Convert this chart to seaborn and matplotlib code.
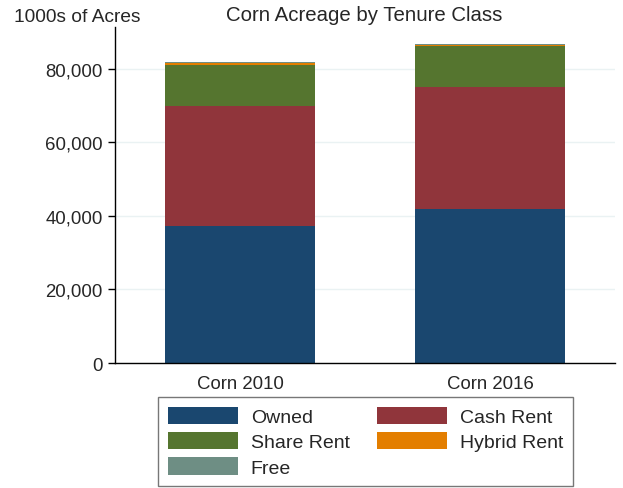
import pandas as pd
import matplotlib.pyplot as plt
import seaborn as sns
from matplotlib.patches import Patch
from matplotlib.ticker import FuncFormatter

# Datos (miles de acres)
years = ['Corn 2010', 'Corn 2016']
classes = ['Owned', 'Cash Rent', 'Share Rent', 'Hybrid Rent', 'Free']
owned = [37300, 41900]
cash_rent = [32600, 33200]
share_rent = [11300, 11100]
hybrid_rent = [450, 300]
free = [350, 300]
colors = ['#1a476f', '#90353b', '#55752f', '#e37e00', '#6e8e84']

sns.set_style('white')
plt.rcParams['font.family'] = ['Liberation Sans', 'DejaVu Sans']

data = pd.DataFrame({'year': years, 'Owned': owned, 'Cash Rent': cash_rent,
                     'Share Rent': share_rent, 'Hybrid Rent': hybrid_rent, 'Free': free})

fig = plt.figure(figsize=(6.23, 4.89), dpi=100)
ax = fig.add_axes([0.1846, 0.2556, 0.8025, 0.6871])

# Barras apiladas
bottom = pd.Series([0] * len(data))
for cls, col in zip(classes, colors):
    sns.barplot(data=data, x='year', y=cls, color=col, bottom=bottom.values,
                width=0.6, ax=ax, saturation=1, edgecolor='none', linewidth=0)
    bottom = bottom + data[cls]

ax.set_xlim(-0.5, 1.5)
ax.set_ylim(0, 91400)
ax.set_yticks([0, 20000, 40000, 60000, 80000])
ax.yaxis.set_major_formatter(FuncFormatter(lambda v, p: f'{int(v):,}'))
ax.grid(axis='y', color='#eaf2f3', linewidth=1)
ax.set_axisbelow(True)
for s in ['top', 'right']:
    ax.spines[s].set_visible(False)
for s in ['left', 'bottom']:
    ax.spines[s].set_color('black')
    ax.spines[s].set_linewidth(1)
ax.tick_params(axis='y', left=True, length=5, width=1, labelsize=13.4, color='black', pad=4)
ax.tick_params(axis='x', bottom=False, labelsize=13.4, pad=5)
ax.set_xlabel('')
ax.set_ylabel('')

fig.text(0.022, 0.965, '1000s of Acres', fontsize=13.8, ha='left', va='center')
fig.text(0.585, 0.969, 'Corn Acreage by Tenure Class', fontsize=14.7, ha='center', va='center')

order = [0, 2, 4, 1, 3]
handles = [Patch(facecolor=colors[i], edgecolor='none') for i in order]
labels = [classes[i] for i in order]
leg = fig.legend(handles, labels, ncol=2, loc='upper left',
                 bbox_to_anchor=(0.2536, 0.186),
                 fontsize=14, frameon=True, fancybox=False, edgecolor='#555555',
                 handlelength=3.6, handleheight=1.0, handletextpad=0.67,
                 labelspacing=0.3, borderpad=0.5, borderaxespad=0, columnspacing=1.4)
leg.get_frame().set_linewidth(1)

plt.savefig('out.png', dpi=100)
